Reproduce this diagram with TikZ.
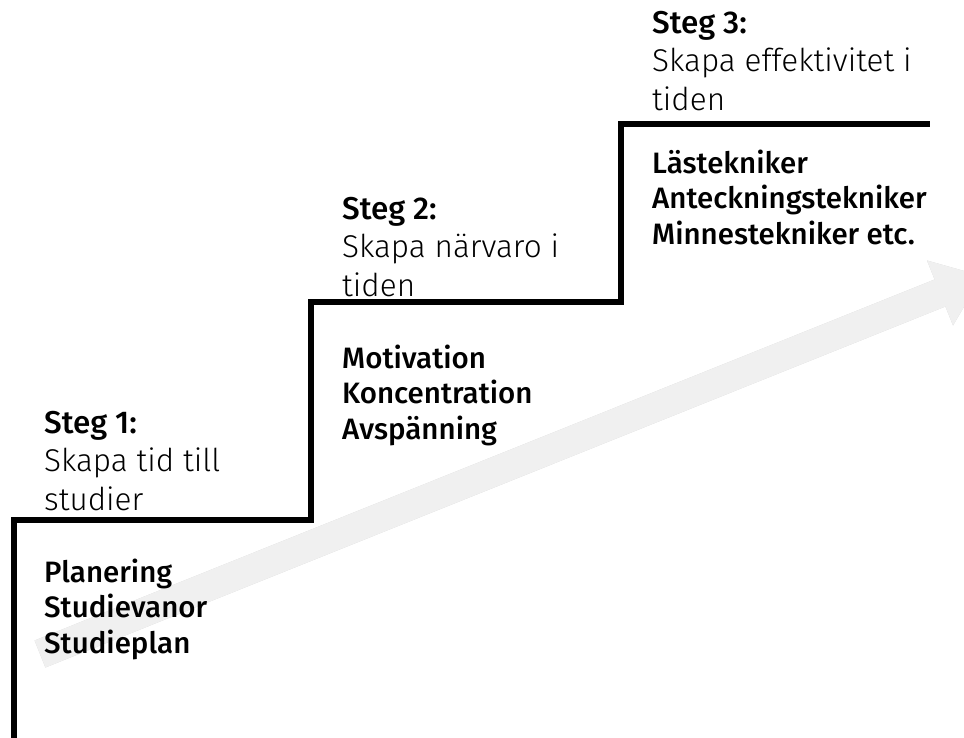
\documentclass[tikz,border=0pt]{standalone}
\usepackage{fontspec}
\setmainfont{Fira Sans}[UprightFont=* Light, BoldFont=* Medium]
\begin{document}
\begin{tikzpicture}[x=1pt,y=-1pt,
  stair/.style={line width=6pt, line join=miter, line cap=butt},
  head/.style={anchor=north west, inner sep=0pt, align=left, font=\fontsize{31.5}{38.3}\selectfont},
  list/.style={anchor=north west, inner sep=0pt, align=left, font=\fontsize{29.5}{35.2}\selectfont\bfseries}]
\useasboundingbox (0,0) rectangle (964,738);
\clip (0,0) rectangle (964,738);
% arrow
\coordinate (a1) at (34.6,640.5);
\coordinate (a2) at (934.6,279.5);
\coordinate (a3) at (927,260.5);
\coordinate (a4) at (982,276);
\coordinate (a5) at (953,325.5);
\coordinate (a6) at (945.4,306.5);
\coordinate (a7) at (45.4,667.5);
\fill[black!35, opacity=0.5, shift={(2,3)}] (a1) -- (a2) -- (a3) -- (a4) -- (a5) -- (a6) -- (a7) -- cycle;
\fill[black!6] (a1) -- (a2) -- (a3) -- (a4) -- (a5) -- (a6) -- (a7) -- cycle;
% stairs
\coordinate (s0) at (14,745);
\coordinate (s1) at (14,520);
\coordinate (s2) at (311,520);
\coordinate (s3) at (311,302);
\coordinate (s4) at (621,302);
\coordinate (s5) at (621,124);
\coordinate (s6) at (930,124);
\draw[stair, black!30, opacity=0.5, shift={(2,3)}] (s0) -- (s1) -- (s2) -- (s3) -- (s4) -- (s5) -- (s6);
\draw[stair] (s0) -- (s1) -- (s2) -- (s3) -- (s4) -- (s5) -- (s6);
% texts
\node[head] (h1) at (44,411) {\textbf{Steg 1:}\\Skapa tid till\\studier};
\node[head] (h2) at (342,197) {\textbf{Steg 2:}\\Skapa närvaro i\\tiden};
\node[head] (h3) at (652,11) {\textbf{Steg 3:}\\Skapa effektivitet i\\tiden};
\node[list] (l1) at (44,559) {Planering\\Studievanor\\Studieplan};
\node[list] (l2) at (342,345) {Motivation\\Koncentration\\Avspänning};
\node[list] (l3) at (652,150) {Lästekniker\\Anteckningstekniker\\Minnestekniker etc.};
\end{tikzpicture}
\end{document}
